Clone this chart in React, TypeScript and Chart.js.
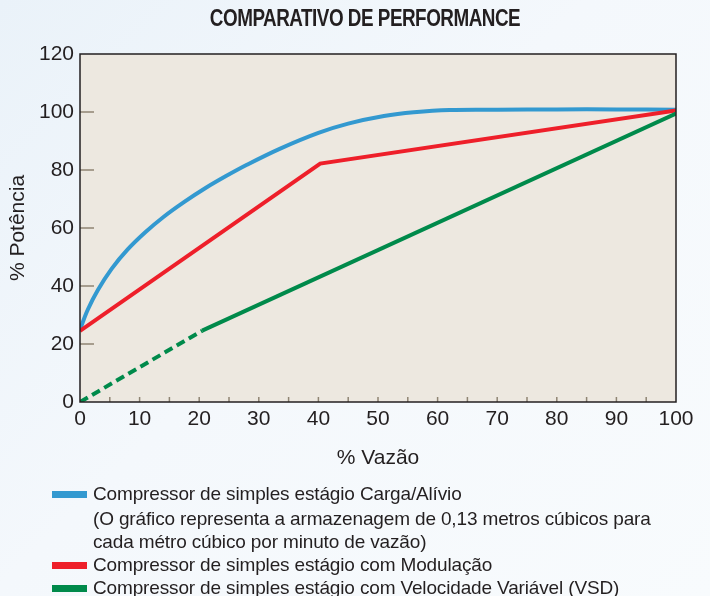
import React, { useEffect, useRef } from "react";
import { Chart, registerables } from "chart.js";

Chart.register(...registerables);

const TITLE = "COMPARATIVO DE PERFORMANCE";
const X_TITLE = "% Vazão";
const Y_TITLE = "% Potência";

const blueX = [0, 1.3, 3, 5.3, 8, 11, 14, 17.5, 21, 24.5, 28, 33.5, 40, 45, 51, 56, 62, 70, 80, 90, 100];
const blueY = [25, 31.8, 38.6, 45.9, 52.6, 58.6, 63.8, 69.0, 73.7, 77.9, 81.8, 87.3, 92.8, 96.0, 98.6, 99.9, 100.7, 100.8, 100.9, 100.9, 100.8];

const redX = [0, 40.3, 100];
const redY = [24.5, 82.2, 100.5];

const greenX = [0, 20.5, 100];
const greenY = [0, 24.6, 99.5];
const GREEN_DASH_END = 20.5;

const xTickValues = [0, 10, 20, 30, 40, 50, 60, 70, 80, 90, 100];
const yTickValues = [0, 20, 40, 60, 80, 100, 120];
const xMinorTicks = [5, 10, 15, 20, 25, 30, 35, 40, 45, 50, 55, 60, 65, 70, 75, 80, 85, 90, 95];
const yMinorTicks = [20, 40, 60, 80, 100];

const LEGEND_BLUE = "Compressor de simples estágio Carga/Alívio";
const LEGEND_BLUE_NOTE_1 = "(O gráfico representa a armazenagem de 0,13 metros cúbicos para";
const LEGEND_BLUE_NOTE_2 = "cada métro cúbico por minuto de vazão)";
const LEGEND_RED = "Compressor de simples estágio com Modulação";
const LEGEND_GREEN = "Compressor de simples estágio com Velocidade Variável (VSD)";

const BLUE = "#3399d0";
const RED = "#ee1f2a";
const GREEN = "#008a4b";
const TEXT = "#231f20";
const PLOT_BG = "#ede8e0";
const TICK = "#8f8473";

const FONT = "'Liberation Sans', Arial, Helvetica, sans-serif";

const toPoints = (xs: number[], ys: number[]) => xs.map((x, i) => ({ x, y: ys[i] }));

const plotDecor = {
  id: "plotDecor",
  beforeDatasetsDraw(chart: any) {
    const { ctx, chartArea, scales } = chart;
    ctx.save();
    ctx.fillStyle = PLOT_BG;
    ctx.fillRect(chartArea.left, chartArea.top, chartArea.right - chartArea.left, chartArea.bottom - chartArea.top);
    ctx.strokeStyle = TICK;
    ctx.lineWidth = 1.5;
    for (const v of yMinorTicks) {
      const y = scales.y.getPixelForValue(v);
      ctx.beginPath();
      ctx.moveTo(chartArea.left, y);
      ctx.lineTo(chartArea.left + 14, y);
      ctx.stroke();
    }
    for (const v of xMinorTicks) {
      const x = scales.x.getPixelForValue(v);
      ctx.beginPath();
      ctx.moveTo(x, chartArea.bottom);
      ctx.lineTo(x, chartArea.bottom - 5);
      ctx.stroke();
    }
    ctx.restore();
  },
  afterDatasetsDraw(chart: any) {
    const { ctx, chartArea } = chart;
    ctx.save();
    ctx.strokeStyle = TEXT;
    ctx.lineWidth = 1.5;
    ctx.strokeRect(chartArea.left, chartArea.top, chartArea.right - chartArea.left, chartArea.bottom - chartArea.top);
    ctx.restore();
  },
};

export default function App() {
  const canvasRef = useRef<HTMLCanvasElement | null>(null);

  useEffect(() => {
    if (!canvasRef.current) return;
    const chart = new Chart(canvasRef.current, {
      type: "line",
      data: {
        datasets: [
          {
            label: LEGEND_BLUE,
            data: toPoints(blueX, blueY),
            borderColor: BLUE,
            borderWidth: 4,
            pointRadius: 0,
            tension: 0.35,
            order: 2,
          },
          {
            label: LEGEND_RED,
            data: toPoints(redX, redY),
            borderColor: RED,
            borderWidth: 4,
            pointRadius: 0,
            tension: 0,
            order: 1,
          },
          {
            label: LEGEND_GREEN,
            data: toPoints(greenX, greenY),
            borderColor: GREEN,
            borderWidth: 4,
            pointRadius: 0,
            tension: 0,
            order: 0,
            segment: {
              borderDash: (ctx: any) => (ctx.p1.parsed.x <= GREEN_DASH_END ? [9, 5] : undefined),
            },
          },
        ],
      },
      options: {
        animation: false,
        responsive: false,
        layout: { padding: { left: 0, right: 34, top: 54, bottom: 0 } },
        plugins: {
          legend: { display: false },
          tooltip: { enabled: false },
          title: { display: false },
        },
        scales: {
          x: {
            type: "linear",
            min: 0,
            max: 100,
            afterBuildTicks: (scale: any) => {
              scale.ticks = xTickValues.map((v) => ({ value: v }));
            },
            afterFit: (scale: any) => {
              scale.height = 194;
            },
            grid: { display: false, drawTicks: false },
            border: { display: false },
            ticks: { color: TEXT, font: { family: FONT, size: 21 }, padding: 5, maxRotation: 0 },
            title: {
              display: true,
              text: X_TITLE,
              color: TEXT,
              font: { family: FONT, size: 21, lineHeight: 1.2 },
              padding: { top: 0, bottom: 125.4 },
            },
          },
          y: {
            type: "linear",
            min: 0,
            max: 120,
            afterBuildTicks: (scale: any) => {
              scale.ticks = yTickValues.map((v) => ({ value: v }));
            },
            afterFit: (scale: any) => {
              scale.width = 80;
            },
            grid: { display: false, drawTicks: false },
            border: { display: false },
            ticks: { color: TEXT, font: { family: FONT, size: 21 }, padding: 6 },
            title: {
              display: true,
              text: Y_TITLE,
              color: TEXT,
              font: { family: FONT, size: 21, lineHeight: 1.2 },
              padding: { top: 5.4, bottom: 0 },
            },
          },
        },
      },
      plugins: [plotDecor],
    } as any);
    return () => chart.destroy();
  }, []);

  const lineStyle: React.CSSProperties = {
    position: "absolute",
    left: 93,
    fontFamily: FONT,
    fontSize: 19,
    letterSpacing: "-0.15px",
    lineHeight: "24px",
    color: TEXT,
    whiteSpace: "nowrap",
  };
  const swatch = (color: string, cy: number): React.CSSProperties => ({
    position: "absolute",
    left: 52,
    top: cy - 3.5,
    width: 35,
    height: 7,
    background: color,
  });

  return (
    <div
      style={{
        position: "fixed",
        left: 0,
        top: 0,
        width: 710,
        height: 596,
        overflow: "hidden",
        background: "linear-gradient(135deg, #eaf2f9 0%, #f4f8fc 45%, #f8fbfd 100%)",
      }}
    >
      <canvas ref={canvasRef} width={710} height={596} style={{ position: "absolute", left: 0, top: 0 }} />
      <div
        style={{
          position: "absolute",
          left: 0,
          width: 730,
          top: 4,
          textAlign: "center",
          fontFamily: FONT,
          fontWeight: "bold",
          fontSize: 23,
          lineHeight: "28px",
          letterSpacing: "-0.6px",
          color: TEXT,
          whiteSpace: "nowrap",
          transform: "scaleX(0.82)",
          transformOrigin: "365px 0",
        }}
      >
        {TITLE}
      </div>
      <div style={swatch(BLUE, 494)} />
      <div style={{ ...lineStyle, top: 494 - 12 }}>{LEGEND_BLUE}</div>
      <div style={{ ...lineStyle, top: 519 - 12 }}>{LEGEND_BLUE_NOTE_1}</div>
      <div style={{ ...lineStyle, top: 542 - 12 }}>{LEGEND_BLUE_NOTE_2}</div>
      <div style={swatch(RED, 565)} />
      <div style={{ ...lineStyle, top: 565 - 12 }}>{LEGEND_RED}</div>
      <div style={swatch(GREEN, 588)} />
      <div style={{ ...lineStyle, top: 588 - 12 }}>{LEGEND_GREEN}</div>
    </div>
  );
}
